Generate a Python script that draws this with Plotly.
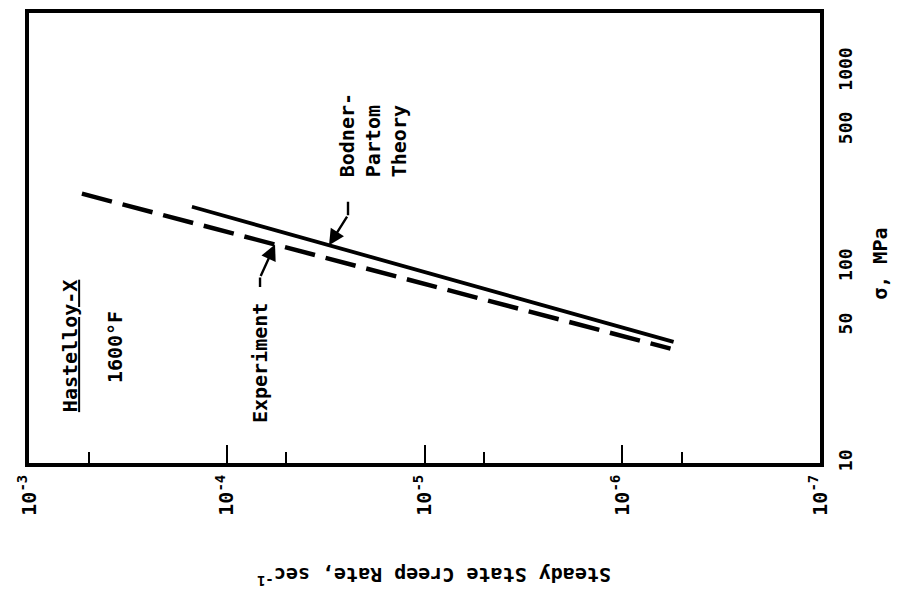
import numpy as np
import plotly.graph_objects as go

# ---- data ----
exp_rate = [5.4e-4, 5.7e-7]        # Experiment, creep rate (1/s)
exp_stress = [238.0, 38.4]         # Experiment, stress (MPa)
theory_rate = [1.5e-4, 5.5e-7]     # Bodner-Partom theory
theory_stress = [204.0, 41.6]

rate_ticks = [1e-3, 1e-4, 1e-5, 1e-6, 1e-7]
rate_ticktext = ["10<sup>-3</sup>", "10<sup>-4</sup>", "10<sup>-5</sup>",
                 "10<sup>-6</sup>", "10<sup>-7</sup>"]
rate_minor = [5e-4, 5e-5, 5e-6, 5e-7]
stress_ticks = [10, 100, 1000]
stress_minor = [50, 500]
stress_ticks_all = [10, 50, 100, 500, 1000]

FONT = "DejaVu Sans Mono"
BLACK = "#000000"


def stress_at(rate, rates, stresses):
    lr = np.log10(rates)
    ls = np.log10(stresses)
    order = np.argsort(lr)
    return float(np.interp(np.log10(rate), lr[order], ls[order]))


fig = go.Figure()
fig.add_trace(go.Scatter(x=exp_rate, y=exp_stress, mode="lines",
                         line=dict(color=BLACK, width=4.5, dash="31px,11px"),
                         showlegend=False, hoverinfo="skip"))
fig.add_trace(go.Scatter(x=theory_rate, y=theory_stress, mode="lines",
                         line=dict(color=BLACK, width=3.8),
                         showlegend=False, hoverinfo="skip"))

fig.update_layout(
    width=908, height=604,
    margin=dict(l=21, r=96, t=1, b=149),
    paper_bgcolor="white", plot_bgcolor="white",
    font=dict(family=FONT, size=18, color=BLACK, weight="bold"),
    showlegend=False,
)

fig.update_xaxes(
    type="log", range=[-3, -7],
    tickvals=rate_ticks, ticktext=rate_ticktext, tickangle=-90,
    ticks="inside", ticklen=18, tickwidth=2, tickcolor=BLACK,
    minor=dict(tickvals=rate_minor, ticks="inside", ticklen=11, tickwidth=2, tickcolor=BLACK),
    showline=True, linewidth=3.5, linecolor=BLACK, mirror=True,
    showgrid=False, zeroline=False,
    tickfont=dict(family=FONT, size=20, weight="bold"),
)
fig.update_yaxes(
    type="log", range=[1, 3.3], side="right",
    tickvals=stress_ticks_all, ticktext=[str(v) for v in stress_ticks_all], tickangle=-90,
    ticks="", showline=True, linewidth=3.5, linecolor=BLACK, mirror=True,
    showgrid=False, zeroline=False, ticklabelstandoff=7,
    tickfont=dict(family=FONT, size=18, weight="bold"),
)

# tick marks on the right axis: long at decades, short at 50/500
for v in stress_ticks:
    fig.add_shape(type="line", xref="paper", yref="y", x0=1, x1=1 - 24 / 791,
                  y0=np.log10(v), y1=np.log10(v), line=dict(color=BLACK, width=2))
for v in stress_minor:
    fig.add_shape(type="line", xref="paper", yref="y", x0=1, x1=1 - 14 / 791,
                  y0=np.log10(v), y1=np.log10(v), line=dict(color=BLACK, width=2))

txt = dict(font=dict(family=FONT, size=20, color=BLACK, weight="bold"), showarrow=False,
           textangle=-90, xref="paper", yref="paper",
           xanchor="center", yanchor="middle")
fig.add_annotation(text="<u>Hastelloy-X</u>", x=0.052, y=0.26, **txt)
fig.add_annotation(text="1600°F", x=0.109, y=0.258, **txt)
fig.add_annotation(text="Experiment", x=0.292, y=0.222, **txt)
fig.add_annotation(text="Bodner-<br>Partom<br>Theory", x=0.436, y=0.728,
                   align="left", **txt)

# axis titles
fig.add_annotation(text="Steady State Creep Rate, sec<sup>-1</sup>", x=0.512, y=-0.251,
                   xref="paper", yref="paper", showarrow=False, textangle=180,
                   xanchor="center", yanchor="middle",
                   font=dict(family=FONT, size=20, color=BLACK, weight="bold"))
fig.add_annotation(text="σ, MPa", x=1.076, y=0.443, xref="paper", yref="paper",
                   showarrow=False, textangle=-90, xanchor="center", yanchor="middle",
                   font=dict(family=FONT, size=20, color=BLACK, weight="bold"))

# pointer arrows (bent: short vertical stub + slanted arrow)
arrow = dict(xref="x", yref="y", text="", showarrow=True, arrowcolor=BLACK)
r_exp = 5.7e-5
hx, hy = np.log10(r_exp), stress_at(r_exp, exp_rate, exp_stress)
fig.add_annotation(x=hx, y=hy, arrowhead=2, arrowsize=1.3, arrowwidth=2.4,
                   ax=-15, ay=33, **arrow)
fig.add_annotation(x=hx, y=hy, xshift=-15, yshift=-33, arrowhead=0, arrowwidth=2.4,
                   ax=0, ay=11, **arrow)
r_th = 3.04e-5
hx, hy = np.log10(r_th), stress_at(r_th, theory_rate, theory_stress)
fig.add_annotation(x=hx, y=hy, arrowhead=2, arrowsize=1.3, arrowwidth=2.4,
                   ax=19, ay=-30, **arrow)
fig.add_annotation(x=hx, y=hy, xshift=19, yshift=30, arrowhead=0, arrowwidth=2.4,
                   ax=0, ay=-15, **arrow)

fig.write_html("out.html")
